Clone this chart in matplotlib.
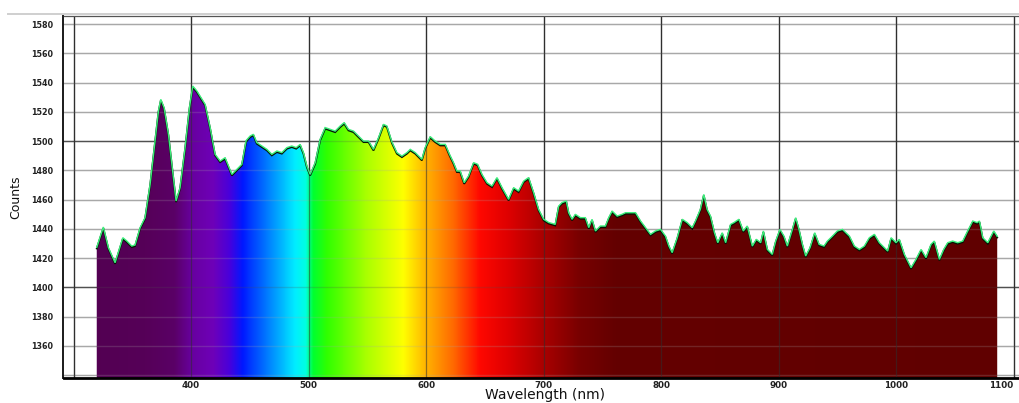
import numpy as np
import matplotlib
matplotlib.use("Agg")
import matplotlib.pyplot as plt
from matplotlib.colors import LinearSegmentedColormap, Normalize
from matplotlib.patches import Polygon
from matplotlib.lines import Line2D
import matplotlib.transforms as mtransforms

# ---------------- data ----------------
wavelength = [319.7, 325.3, 329.6, 335.3, 341.9, 345.3, 349.5, 352.3, 356.6, 360.8,
              365.1, 369.3, 372.2, 374.2, 377.0, 380.7, 383.6, 387.2, 390.6, 394.9,
              398.6, 401.4, 404.9, 411.9, 416.2, 420.4, 424.7, 428.9, 434.7, 438.9,
              443.2, 446.8, 450.2, 453.0, 455.9, 460.2, 464.5, 468.7, 473.0, 477.2,
              481.5, 485.7, 489.4, 492.8, 495.6, 498.5, 501.3, 505.6, 509.8, 514.1,
              518.3, 522.6, 526.9, 530.3, 533.9, 538.2, 542.4, 546.7, 551.0, 555.2,
              559.5, 563.7, 566.6, 570.9, 575.1, 579.4, 583.7, 586.5, 590.7, 596.4,
              599.2, 603.5, 607.7, 612.0, 616.3, 619.9, 623.3, 626.2, 629.0, 632.4,
              636.1, 640.4, 643.8, 647.5, 651.8, 656.1, 660.3, 664.6, 670.2, 674.5,
              678.7, 683.0, 687.2, 691.5, 695.7, 700.0, 704.3, 709.9, 712.8, 715.6,
              719.3, 721.3, 724.2, 727.0, 731.3, 735.5, 738.4, 741.2, 744.1, 748.3,
              752.6, 755.4, 758.3, 762.6, 766.8, 769.7, 773.9, 778.2, 782.5, 786.7,
              791.0, 795.2, 799.5, 803.7, 806.6, 809.4, 813.7, 818.0, 822.2, 826.5,
              829.2, 833.4, 836.3, 839.1, 842.0, 845.4, 848.2, 852.0, 854.9, 859.1,
              861.9, 866.2, 869.9, 873.3, 877.6, 881.0, 884.7, 887.0, 890.4, 894.6,
              897.5, 901.1, 904.5, 907.4, 911.7, 914.5, 917.3, 920.2, 923.0, 926.7,
              930.7, 934.4, 938.6, 941.5, 945.8, 950.0, 954.3, 960.2, 964.4, 968.7,
              973.0, 977.2, 981.5, 985.7, 990.0, 992.8, 995.7, 999.9, 1002.7, 1007.0,
              1012.7, 1016.9, 1021.2, 1025.4, 1029.7, 1032.5, 1036.8, 1040.5, 1043.9, 1048.1,
              1052.4, 1056.7, 1060.9, 1065.2, 1068.9, 1070.9, 1073.7, 1078.0, 1083.1, 1086.0]

counts = [1427.0, 1440.9, 1426.8, 1416.5, 1433.6, 1431.3, 1427.9, 1428.6, 1440.5, 1447.3,
          1470.0, 1499.7, 1520.2, 1528.2, 1522.5, 1504.3, 1483.8, 1458.7, 1467.8, 1495.2,
          1522.5, 1537.3, 1533.9, 1524.8, 1508.9, 1490.6, 1486.0, 1488.3, 1476.9, 1480.3,
          1483.8, 1500.0, 1503.1, 1504.3, 1498.6, 1496.3, 1494.0, 1490.6, 1492.9, 1491.8,
          1495.2, 1496.3, 1495.2, 1497.4, 1491.8, 1482.6, 1476.9, 1484.9, 1500.9, 1508.9,
          1507.7, 1506.5, 1510.0, 1512.3, 1507.7, 1506.5, 1503.1, 1499.7, 1499.7, 1494.0,
          1502.0, 1511.1, 1510.0, 1499.0, 1491.8, 1489.4, 1491.8, 1494.0, 1491.8, 1487.2,
          1495.2, 1502.7, 1499.7, 1497.4, 1497.4, 1490.6, 1484.9, 1479.2, 1479.2, 1471.2,
          1475.8, 1484.9, 1483.8, 1476.9, 1471.2, 1468.9, 1474.7, 1467.8, 1459.8, 1467.8,
          1465.5, 1472.3, 1474.7, 1464.4, 1453.0, 1446.2, 1444.0, 1442.7, 1455.2, 1457.6,
          1458.7, 1450.7, 1446.2, 1449.6, 1447.3, 1447.3, 1440.5, 1446.2, 1438.2, 1441.6,
          1441.6, 1447.3, 1451.8, 1448.4, 1449.6, 1450.7, 1450.7, 1450.7, 1445.0, 1440.5,
          1435.9, 1438.2, 1439.3, 1434.7, 1427.9, 1423.4, 1433.6, 1446.2, 1443.9, 1440.5,
          1445.0, 1453.0, 1463.2, 1453.0, 1448.4, 1437.0, 1430.2, 1437.0, 1430.2, 1442.7,
          1443.9, 1446.2, 1438.2, 1441.6, 1427.9, 1432.5, 1430.2, 1438.2, 1425.6, 1422.2,
          1431.3, 1439.3, 1434.7, 1427.9, 1439.3, 1447.3, 1439.3, 1429.1, 1421.1, 1426.8,
          1437.0, 1429.1, 1427.9, 1431.3, 1434.7, 1438.2, 1439.3, 1434.7, 1427.9, 1425.6,
          1427.9, 1433.6, 1435.9, 1430.2, 1426.8, 1424.5, 1433.6, 1430.2, 1432.5, 1422.2,
          1413.1, 1418.8, 1425.6, 1420.0, 1429.1, 1431.3, 1418.8, 1425.6, 1430.2, 1431.3,
          1430.2, 1431.3, 1438.2, 1445.0, 1443.9, 1445.0, 1433.6, 1430.2, 1438.2, 1434.5]

x_ticks = [400, 500, 600, 700, 800, 900, 1000, 1100]
y_ticks = [1360, 1380, 1400, 1420, 1440, 1460, 1480, 1500, 1520, 1540, 1560, 1580]
x_label = "Wavelength (nm)"
y_label = "Counts"

# ---------------- style ----------------
W, H = 1020, 403
fig = plt.figure(figsize=(W / 100, H / 100), dpi=100)
fig.patch.set_facecolor("white")

left_px, right_px, top_px, bot_px = 63.5, 1026, 16, 378
ax = fig.add_axes([left_px / W, 1 - bot_px / H, (right_px - left_px) / W, (bot_px - top_px) / H])

xlim = (291.4, 1110.5)
ylim = (1338.1, 1585.6)
ax.set_xlim(*xlim)
ax.set_ylim(*ylim)

# spectrum colour map (wavelength -> colour)
lo, hi = 300.0, 1100.0
stops = [(300, "#520050"), (360, "#560058"), (385, "#5a0066"), (400, "#6800a0"),
         (418, "#6e00b8"), (432, "#4800dc"), (443, "#0018ff"), (465, "#0080ff"),
         (488, "#00eeff"), (497, "#00ffe0"), (503, "#00ff30"), (515, "#30ff00"),
         (548, "#a8ff00"), (580, "#ffff00"), (600, "#ffb000"), (622, "#ff6a00"),
         (645, "#ff0800"), (670, "#dd0000"), (700, "#a80000"), (730, "#780000"),
         (760, "#640000"), (1100, "#600000")]
cmap = LinearSegmentedColormap.from_list(
    "spec", [((w - lo) / (hi - lo), c) for w, c in stops], N=1024)

grad = np.linspace(lo, hi, 2000)[None, :]
img = ax.imshow(grad, extent=[lo, hi, ylim[0], ylim[1]], aspect="auto",
                cmap=cmap, norm=Normalize(lo, hi), origin="lower",
                interpolation="bilinear", zorder=1)

verts = [(wavelength[0], 1300)] + list(zip(wavelength, counts)) + [(wavelength[-1], 1300)]
clip = Polygon(verts, closed=True, facecolor="none", edgecolor="none",
               transform=ax.transData)
ax.add_patch(clip)
img.set_clip_path(clip)

# grid: full-strength behind the spectrum, faint on top of it
for yv in range(1340, 1600, 20):
    major = yv in (1400, 1500)
    col = "#505050" if major else "#a8a8a8"
    ax.axhline(yv, color=col, lw=1.0, zorder=0.5)
    ax.axhline(yv, color=col, lw=1.0, alpha=0.22, zorder=2)
for xv in range(300, 1101, 100):
    ax.axvline(xv, color="#2f2f2f", lw=0.9, zorder=0.5)
    ax.axvline(xv, color="#2f2f2f", lw=0.9, alpha=0.55, zorder=2)

# outline
down = mtransforms.offset_copy(ax.transData, fig=fig, y=-0.35, units="points")
up = mtransforms.offset_copy(ax.transData, fig=fig, y=0.45, units="points")
ax.plot(wavelength, counts, color="#051505", lw=1.3, zorder=3, transform=down,
        solid_joinstyle="miter")
ax.plot(wavelength, counts, color="#3cf07c", lw=1.0, zorder=4, transform=up,
        solid_joinstyle="miter")

# ticks and spines
ax.set_xticks(x_ticks)
ax.set_yticks(y_ticks)
ax.set_xticklabels([str(v) for v in x_ticks])
ax.set_yticklabels([str(v) for v in y_ticks])
ax.tick_params(axis="both", length=0)
ax.tick_params(axis="x", pad=2.5, labelsize=6.3, labelcolor="#222222")
ax.tick_params(axis="y", pad=7.5, labelsize=5.8, labelcolor="#222222")
for lab in ax.get_xticklabels() + ax.get_yticklabels():
    lab.set_fontweight("bold")
ax.get_xticklabels()[-1].set_horizontalalignment("right")

ax.spines["left"].set_color("#1a1a1a")
ax.spines["left"].set_linewidth(1.4)
ax.spines["bottom"].set_color("#000000")
ax.spines["bottom"].set_linewidth(2.0)
ax.spines["top"].set_color("#555555")
ax.spines["top"].set_linewidth(0.9)
ax.spines["right"].set_visible(False)
for s in ax.spines.values():
    s.set_zorder(5)

# labels
fig.text(16 / W, 1 - 197 / H, y_label, rotation=90, ha="center", va="center",
         fontsize=9, family=["Liberation Sans Narrow", "DejaVu Sans"], color="#111111")
fig.text(545 / W, 1 - 402.5 / H, x_label, ha="center", va="bottom", fontsize=10,
         color="#111111")

# thin separator line at the top of the window
fig.add_artist(Line2D([8 / W, 1.0], [1 - 14 / H, 1 - 14 / H], transform=fig.transFigure,
                      color="#cfcfcf", lw=1.4))

fig.savefig("out.png", dpi=100, facecolor="white")
